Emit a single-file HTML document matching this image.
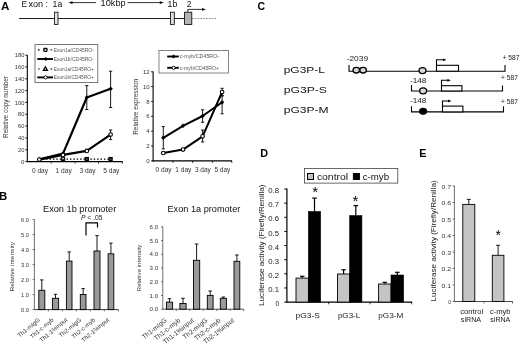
<!DOCTYPE html>
<html lang="en">
<head>
<meta charset="utf-8">
<title>Figure</title>
<style>
html,body{margin:0;padding:0;background:#fff;}
body{width:520px;height:344px;overflow:hidden;}
svg{display:block;font-family:"Liberation Sans", Arial, sans-serif;will-change:transform;-webkit-font-smoothing:antialiased;}
svg text{font-family:"Liberation Sans", Arial, sans-serif;}
</style>
</head>
<body>
<svg width="520" height="344" viewBox="0 0 520 344">
<rect x="0" y="0" width="520" height="344" fill="#ffffff"/>
<text x="1.0" y="10" font-size="10.8" text-anchor="start" fill="#000" font-weight="bold" textLength="8.4" lengthAdjust="spacingAndGlyphs">A</text>
<text x="-0.9" y="199.5" font-size="11.4" text-anchor="start" fill="#000" font-weight="bold">B</text>
<text x="257.5" y="10.4" font-size="10.5" text-anchor="start" fill="#000" font-weight="bold">C</text>
<text x="260.2" y="156.8" font-size="10.8" text-anchor="start" fill="#000" font-weight="bold">D</text>
<text x="419.3" y="156.6" font-size="10.8" text-anchor="start" fill="#000" font-weight="bold">E</text>
<text x="21.5" y="6.6" font-size="8.5" text-anchor="start" fill="#111">E<tspan x="28.4" textLength="14.8" lengthAdjust="spacingAndGlyphs">xon</tspan><tspan x="45.6">:</tspan><tspan x="52.6" textLength="9.6" lengthAdjust="spacingAndGlyphs">1a</tspan></text>
<text x="100.6" y="6.1" font-size="8.8" text-anchor="start" fill="#111" textLength="25" lengthAdjust="spacingAndGlyphs">10kbp</text>
<text x="167.6" y="6.7" font-size="8.6" text-anchor="start" fill="#111" textLength="9.8" lengthAdjust="spacingAndGlyphs">1b</text>
<text x="186.8" y="6.7" font-size="8.6" text-anchor="start" fill="#111">2</text>
<line x1="70" y1="2.6" x2="96" y2="2.6" stroke="#000" stroke-width="0.8"/>
<polygon points="68.5,2.6 72.5,1.2 72.5,4" fill="#000"/>
<line x1="127.5" y1="2.6" x2="162" y2="2.6" stroke="#000" stroke-width="0.8"/>
<polygon points="163.8,2.6 159.8,1.2 159.8,4" fill="#000"/>
<line x1="19" y1="18.5" x2="192" y2="18.5" stroke="#000" stroke-width="0.9"/>
<line x1="192" y1="18.5" x2="216.5" y2="18.5" stroke="#555" stroke-width="0.7" stroke-dasharray="1.6 1.2"/>
<rect x="54.4" y="12.2" width="3.6" height="12.2" fill="#e4e4e4" stroke="#000" stroke-width="0.8"/>
<rect x="170.4" y="12.2" width="3.9" height="12.2" fill="#dcdcdc" stroke="#000" stroke-width="0.8"/>
<rect x="184.6" y="12.2" width="7.2" height="12.2" fill="#b4b4b4" stroke="#000" stroke-width="0.8"/>
<polyline points="187.8,12.2 187.8,9.4 203,9.4" fill="none" stroke="#000" stroke-width="0.8"/>
<polygon points="205.8,9.4 202,8 202,10.8" fill="#000"/>
<line x1="27.3" y1="55" x2="27.3" y2="162.1" stroke="#000" stroke-width="1.1"/>
<line x1="26.8" y1="161.6" x2="122.6" y2="161.6" stroke="#000" stroke-width="1.1"/>
<line x1="25.3" y1="161.6" x2="27.3" y2="161.6" stroke="#000" stroke-width="0.9"/>
<text x="24.400000000000002" y="163.7" font-size="6" text-anchor="end" fill="#333">0</text>
<line x1="25.3" y1="149.76666666666665" x2="27.3" y2="149.76666666666665" stroke="#000" stroke-width="0.9"/>
<text x="24.400000000000002" y="151.86666666666665" font-size="6" text-anchor="end" fill="#333" textLength="6.4" lengthAdjust="spacingAndGlyphs">20</text>
<line x1="25.3" y1="137.93333333333334" x2="27.3" y2="137.93333333333334" stroke="#000" stroke-width="0.9"/>
<text x="24.400000000000002" y="140.03333333333333" font-size="6" text-anchor="end" fill="#333" textLength="6.4" lengthAdjust="spacingAndGlyphs">40</text>
<line x1="25.3" y1="126.1" x2="27.3" y2="126.1" stroke="#000" stroke-width="0.9"/>
<text x="24.400000000000002" y="128.2" font-size="6" text-anchor="end" fill="#333" textLength="6.4" lengthAdjust="spacingAndGlyphs">60</text>
<line x1="25.3" y1="114.26666666666665" x2="27.3" y2="114.26666666666665" stroke="#000" stroke-width="0.9"/>
<text x="24.400000000000002" y="116.36666666666665" font-size="6" text-anchor="end" fill="#333" textLength="6.4" lengthAdjust="spacingAndGlyphs">80</text>
<line x1="25.3" y1="102.43333333333334" x2="27.3" y2="102.43333333333334" stroke="#000" stroke-width="0.9"/>
<text x="24.400000000000002" y="104.53333333333333" font-size="6" text-anchor="end" fill="#333" textLength="9.600000000000001" lengthAdjust="spacingAndGlyphs">100</text>
<line x1="25.3" y1="90.6" x2="27.3" y2="90.6" stroke="#000" stroke-width="0.9"/>
<text x="24.400000000000002" y="92.69999999999999" font-size="6" text-anchor="end" fill="#333" textLength="9.600000000000001" lengthAdjust="spacingAndGlyphs">120</text>
<line x1="25.3" y1="78.76666666666667" x2="27.3" y2="78.76666666666667" stroke="#000" stroke-width="0.9"/>
<text x="24.400000000000002" y="80.86666666666666" font-size="6" text-anchor="end" fill="#333" textLength="9.600000000000001" lengthAdjust="spacingAndGlyphs">140</text>
<line x1="25.3" y1="66.93333333333332" x2="27.3" y2="66.93333333333332" stroke="#000" stroke-width="0.9"/>
<text x="24.400000000000002" y="69.03333333333332" font-size="6" text-anchor="end" fill="#333" textLength="9.600000000000001" lengthAdjust="spacingAndGlyphs">160</text>
<line x1="25.3" y1="55.099999999999994" x2="27.3" y2="55.099999999999994" stroke="#000" stroke-width="0.9"/>
<text x="24.400000000000002" y="57.199999999999996" font-size="6" text-anchor="end" fill="#333" textLength="9.600000000000001" lengthAdjust="spacingAndGlyphs">180</text>
<line x1="51.2" y1="161.6" x2="51.2" y2="163.6" stroke="#000" stroke-width="0.8"/>
<line x1="75" y1="161.6" x2="75" y2="163.6" stroke="#000" stroke-width="0.8"/>
<line x1="98.6" y1="161.6" x2="98.6" y2="163.6" stroke="#000" stroke-width="0.8"/>
<line x1="122.4" y1="161.6" x2="122.4" y2="163.6" stroke="#000" stroke-width="0.8"/>
<text x="40.0" y="172.8" font-size="6.5" text-anchor="middle" fill="#333" textLength="16.2" lengthAdjust="spacingAndGlyphs">0 day</text>
<text x="63.7" y="172.8" font-size="6.5" text-anchor="middle" fill="#333" textLength="16.2" lengthAdjust="spacingAndGlyphs">1 day</text>
<text x="87.5" y="172.8" font-size="6.5" text-anchor="middle" fill="#333" textLength="16.2" lengthAdjust="spacingAndGlyphs">3 day</text>
<text x="111.3" y="172.8" font-size="6.5" text-anchor="middle" fill="#333" textLength="16.2" lengthAdjust="spacingAndGlyphs">5 day</text>
<text x="8.4" y="107" font-size="6.4" text-anchor="middle" fill="#333" textLength="62" lengthAdjust="spacingAndGlyphs" transform="rotate(-90 8.4 107)">Relative copy number</text>
<line x1="39.3" y1="159.2" x2="110.6" y2="159.2" stroke="#000" stroke-width="1.2" stroke-dasharray="1.5 1.9"/>
<polyline points="39.3,159.3 63.0,153.6 86.8,97.5 110.6,88.8" fill="none" stroke="#000" stroke-width="2.2" stroke-linejoin="round"/>
<line x1="86.8" y1="85.6" x2="86.8" y2="109.5" stroke="#000" stroke-width="0.9"/>
<line x1="85.2" y1="85.6" x2="88.39999999999999" y2="85.6" stroke="#000" stroke-width="0.9"/>
<line x1="85.2" y1="109.5" x2="88.39999999999999" y2="109.5" stroke="#000" stroke-width="0.9"/>
<line x1="110.6" y1="71.2" x2="110.6" y2="107.5" stroke="#000" stroke-width="0.9"/>
<line x1="109.0" y1="71.2" x2="112.19999999999999" y2="71.2" stroke="#000" stroke-width="0.9"/>
<line x1="109.0" y1="107.5" x2="112.19999999999999" y2="107.5" stroke="#000" stroke-width="0.9"/>
<polygon points="37.099999999999994,159.3 39.3,157.10000000000002 41.5,159.3 39.3,161.5" fill="#000"/>
<polygon points="60.8,153.6 63.0,151.4 65.2,153.6 63.0,155.79999999999998" fill="#000"/>
<polygon points="84.6,97.5 86.8,95.3 89.0,97.5 86.8,99.7" fill="#000"/>
<polygon points="108.39999999999999,88.8 110.6,86.6 112.8,88.8 110.6,91.0" fill="#000"/>
<polyline points="39.3,159.6 63.0,154.9 86.8,150.9 110.6,134.6" fill="none" stroke="#000" stroke-width="2.2" stroke-linejoin="round"/>
<line x1="110.6" y1="130" x2="110.6" y2="139.6" stroke="#000" stroke-width="0.9"/>
<line x1="109.0" y1="130" x2="112.19999999999999" y2="130" stroke="#000" stroke-width="0.9"/>
<line x1="109.0" y1="139.6" x2="112.19999999999999" y2="139.6" stroke="#000" stroke-width="0.9"/>
<circle cx="39.3" cy="159.6" r="1.8" fill="#fff" stroke="#000" stroke-width="1.1"/>
<circle cx="63.0" cy="154.9" r="1.8" fill="#fff" stroke="#000" stroke-width="1.1"/>
<circle cx="86.8" cy="150.9" r="1.8" fill="#fff" stroke="#000" stroke-width="1.1"/>
<circle cx="110.6" cy="134.6" r="1.8" fill="#fff" stroke="#000" stroke-width="1.1"/>
<rect x="61.5" y="157.6" width="3" height="3" fill="#555" stroke="#000" stroke-width="1.3"/>
<rect x="85.3" y="157.6" width="3" height="3" fill="#555" stroke="#000" stroke-width="1.3"/>
<rect x="109.1" y="157.6" width="3" height="3" fill="#555" stroke="#000" stroke-width="1.3"/>
<polygon points="61.2,159.6 63.0,156.4 64.8,159.6" fill="#fff" stroke="#000" stroke-width="0.8"/>
<rect x="35" y="44.6" width="62.8" height="37.8" fill="#fff" stroke="#555" stroke-width="0.8"/>
<line x1="38" y1="49.9" x2="39.6" y2="49.9" stroke="#000" stroke-width="1.1"/>
<line x1="50.6" y1="49.9" x2="52.2" y2="49.9" stroke="#000" stroke-width="1.1"/>
<text x="53.8" y="51.5" font-size="4.5" text-anchor="start" fill="#555" textLength="40" lengthAdjust="spacingAndGlyphs">Exon1a/CD45RO-</text>
<line x1="37.3" y1="59" x2="53" y2="59" stroke="#000" stroke-width="1.9"/>
<text x="53.8" y="60.6" font-size="4.5" text-anchor="start" fill="#555" textLength="40" lengthAdjust="spacingAndGlyphs">Exon1b/CD45RO-</text>
<line x1="38" y1="69" x2="39.6" y2="69" stroke="#000" stroke-width="1.1"/>
<line x1="50.6" y1="69" x2="52.2" y2="69" stroke="#000" stroke-width="1.1"/>
<text x="53.8" y="70.6" font-size="4.5" text-anchor="start" fill="#555" textLength="40" lengthAdjust="spacingAndGlyphs">Exon1a/CD45RO+</text>
<line x1="37.3" y1="77.4" x2="53" y2="77.4" stroke="#000" stroke-width="1.9"/>
<text x="53.8" y="79.0" font-size="4.5" text-anchor="start" fill="#555" textLength="40" lengthAdjust="spacingAndGlyphs">Exon1b/CD45RO+</text>
<rect x="43.8" y="48.5" width="3.2" height="2.8" rx="0.8" fill="#fff" stroke="#000" stroke-width="1.3"/>
<polygon points="43.699999999999996,59 45.8,56.9 47.9,59 45.8,61.1" fill="#000"/>
<polygon points="43.4,70.4 45.4,66.8 47.4,70.4" fill="#fff" stroke="#000" stroke-width="1.3"/>
<circle cx="45.6" cy="77.4" r="1.6" fill="#fff" stroke="#000" stroke-width="0.9"/>
<line x1="153.1" y1="71.5" x2="153.1" y2="161.4" stroke="#000" stroke-width="1.1"/>
<line x1="152.6" y1="160.9" x2="232" y2="160.9" stroke="#000" stroke-width="1.1"/>
<line x1="151.1" y1="160.9" x2="153.1" y2="160.9" stroke="#000" stroke-width="0.9"/>
<text x="149.7" y="163.0" font-size="6" text-anchor="end" fill="#333">0</text>
<line x1="151.1" y1="146.04166666666669" x2="153.1" y2="146.04166666666669" stroke="#000" stroke-width="0.9"/>
<text x="149.7" y="148.14166666666668" font-size="6" text-anchor="end" fill="#333">2</text>
<line x1="151.1" y1="131.18333333333334" x2="153.1" y2="131.18333333333334" stroke="#000" stroke-width="0.9"/>
<text x="149.7" y="133.28333333333333" font-size="6" text-anchor="end" fill="#333">4</text>
<line x1="151.1" y1="116.325" x2="153.1" y2="116.325" stroke="#000" stroke-width="0.9"/>
<text x="149.7" y="118.425" font-size="6" text-anchor="end" fill="#333">6</text>
<line x1="151.1" y1="101.46666666666667" x2="153.1" y2="101.46666666666667" stroke="#000" stroke-width="0.9"/>
<text x="149.7" y="103.56666666666666" font-size="6" text-anchor="end" fill="#333">8</text>
<line x1="151.1" y1="86.60833333333333" x2="153.1" y2="86.60833333333333" stroke="#000" stroke-width="0.9"/>
<text x="149.7" y="88.70833333333333" font-size="6" text-anchor="end" fill="#333">10</text>
<line x1="151.1" y1="71.75" x2="153.1" y2="71.75" stroke="#000" stroke-width="0.9"/>
<text x="149.7" y="73.85" font-size="6" text-anchor="end" fill="#333">12</text>
<line x1="173" y1="160.9" x2="173" y2="162.9" stroke="#000" stroke-width="0.8"/>
<line x1="192.7" y1="160.9" x2="192.7" y2="162.9" stroke="#000" stroke-width="0.8"/>
<line x1="212.3" y1="160.9" x2="212.3" y2="162.9" stroke="#000" stroke-width="0.8"/>
<line x1="231.8" y1="160.9" x2="231.8" y2="162.9" stroke="#000" stroke-width="0.8"/>
<text x="163.60000000000002" y="172.4" font-size="7" text-anchor="middle" fill="#333" textLength="16" lengthAdjust="spacingAndGlyphs">0 day</text>
<text x="183.3" y="172.4" font-size="7" text-anchor="middle" fill="#333" textLength="16" lengthAdjust="spacingAndGlyphs">1 day</text>
<text x="202.9" y="172.4" font-size="7" text-anchor="middle" fill="#333" textLength="16" lengthAdjust="spacingAndGlyphs">3 day</text>
<text x="222.4" y="172.4" font-size="7" text-anchor="middle" fill="#333" textLength="16" lengthAdjust="spacingAndGlyphs">5 day</text>
<text x="138.4" y="106.8" font-size="6.4" text-anchor="middle" fill="#333" textLength="56" lengthAdjust="spacingAndGlyphs" transform="rotate(-90 138.4 106.8)">Relative expression</text>
<line x1="163.3" y1="126.6" x2="163.3" y2="148.8" stroke="#000" stroke-width="0.9"/>
<line x1="161.70000000000002" y1="126.6" x2="164.9" y2="126.6" stroke="#000" stroke-width="0.9"/>
<line x1="161.70000000000002" y1="148.8" x2="164.9" y2="148.8" stroke="#000" stroke-width="0.9"/>
<line x1="202.6" y1="109.8" x2="202.6" y2="122.3" stroke="#000" stroke-width="0.9"/>
<line x1="201.0" y1="109.8" x2="204.2" y2="109.8" stroke="#000" stroke-width="0.9"/>
<line x1="201.0" y1="122.3" x2="204.2" y2="122.3" stroke="#000" stroke-width="0.9"/>
<line x1="222.1" y1="95.4" x2="222.1" y2="113.8" stroke="#000" stroke-width="0.9"/>
<line x1="220.5" y1="95.4" x2="223.7" y2="95.4" stroke="#000" stroke-width="0.9"/>
<line x1="220.5" y1="113.8" x2="223.7" y2="113.8" stroke="#000" stroke-width="0.9"/>
<line x1="202.6" y1="130" x2="202.6" y2="142" stroke="#000" stroke-width="0.9"/>
<line x1="201.0" y1="130" x2="204.2" y2="130" stroke="#000" stroke-width="0.9"/>
<line x1="201.0" y1="142" x2="204.2" y2="142" stroke="#000" stroke-width="0.9"/>
<line x1="222.1" y1="88.3" x2="222.1" y2="96" stroke="#000" stroke-width="0.9"/>
<line x1="220.5" y1="88.3" x2="223.7" y2="88.3" stroke="#000" stroke-width="0.9"/>
<line x1="220.5" y1="96" x2="223.7" y2="96" stroke="#000" stroke-width="0.9"/>
<polyline points="163.3,137.8 183.0,125.8 202.6,116 222.1,102.3" fill="none" stroke="#000" stroke-width="2" stroke-linejoin="round"/>
<polyline points="163.3,153 183.0,149.6 202.6,136.3 222.1,92" fill="none" stroke="#000" stroke-width="2" stroke-linejoin="round"/>
<polygon points="161.10000000000002,137.8 163.3,135.60000000000002 165.5,137.8 163.3,140.0" fill="#000"/>
<polygon points="180.8,125.8 183.0,123.6 185.2,125.8 183.0,128.0" fill="#000"/>
<polygon points="200.4,116 202.6,113.8 204.79999999999998,116 202.6,118.2" fill="#000"/>
<polygon points="219.9,102.3 222.1,100.1 224.29999999999998,102.3 222.1,104.5" fill="#000"/>
<circle cx="163.3" cy="153" r="1.8" fill="#fff" stroke="#000" stroke-width="1.1"/>
<circle cx="183.0" cy="149.6" r="1.8" fill="#fff" stroke="#000" stroke-width="1.1"/>
<circle cx="202.6" cy="136.3" r="1.8" fill="#fff" stroke="#000" stroke-width="1.1"/>
<circle cx="222.1" cy="92" r="1.8" fill="#fff" stroke="#000" stroke-width="1.1"/>
<rect x="159" y="50.5" width="69.4" height="22.5" fill="#fff" stroke="#666" stroke-width="0.8"/>
<line x1="167.2" y1="56.5" x2="178.8" y2="56.5" stroke="#000" stroke-width="1.9"/>
<text x="179.8" y="58.2" font-size="4.6" text-anchor="start" fill="#555" textLength="39.3" lengthAdjust="spacingAndGlyphs">c-myb/CD45RO-</text>
<line x1="167.2" y1="67.8" x2="178.8" y2="67.8" stroke="#000" stroke-width="1.9"/>
<text x="179.8" y="69.5" font-size="4.6" text-anchor="start" fill="#555" textLength="39.3" lengthAdjust="spacingAndGlyphs">c-myb/CD45RO+</text>
<polygon points="171.5,56.5 173.6,54.4 175.7,56.5 173.6,58.6" fill="#000"/>
<circle cx="173.6" cy="67.8" r="1.6" fill="#fff" stroke="#000" stroke-width="0.9"/>
<text x="43" y="211.9" font-size="9" text-anchor="start" fill="#111" textLength="73.2" lengthAdjust="spacingAndGlyphs">Exon 1b promoter</text>
<text x="81" y="220.3" font-size="6.3" text-anchor="start" fill="#222" textLength="21.5" lengthAdjust="spacingAndGlyphs"><tspan font-style="italic">P</tspan> &lt; .05</text>
<polyline points="86,235.6 86,222.8 97.5,222.8 97.5,227.6" fill="none" stroke="#000" stroke-width="1.2"/>
<line x1="34.4" y1="219.5" x2="34.4" y2="309.6" stroke="#333" stroke-width="0.7"/>
<line x1="34.4" y1="309.6" x2="118.4" y2="309.6" stroke="#222" stroke-width="0.9"/>
<line x1="32.6" y1="309.6" x2="34.4" y2="309.6" stroke="#333" stroke-width="0.7"/>
<text x="29.0" y="311.70000000000005" font-size="5.8" text-anchor="end" fill="#333" textLength="8.0" lengthAdjust="spacingAndGlyphs">0.0</text>
<line x1="32.6" y1="294.58333333333337" x2="34.4" y2="294.58333333333337" stroke="#333" stroke-width="0.7"/>
<text x="29.0" y="296.6833333333334" font-size="5.8" text-anchor="end" fill="#333" textLength="8.0" lengthAdjust="spacingAndGlyphs">1.0</text>
<line x1="32.6" y1="279.56666666666666" x2="34.4" y2="279.56666666666666" stroke="#333" stroke-width="0.7"/>
<text x="29.0" y="281.6666666666667" font-size="5.8" text-anchor="end" fill="#333" textLength="8.0" lengthAdjust="spacingAndGlyphs">2.0</text>
<line x1="32.6" y1="264.55" x2="34.4" y2="264.55" stroke="#333" stroke-width="0.7"/>
<text x="29.0" y="266.65000000000003" font-size="5.8" text-anchor="end" fill="#333" textLength="8.0" lengthAdjust="spacingAndGlyphs">3.0</text>
<line x1="32.6" y1="249.53333333333333" x2="34.4" y2="249.53333333333333" stroke="#333" stroke-width="0.7"/>
<text x="29.0" y="251.63333333333333" font-size="5.8" text-anchor="end" fill="#333" textLength="8.0" lengthAdjust="spacingAndGlyphs">4.0</text>
<line x1="32.6" y1="234.51666666666665" x2="34.4" y2="234.51666666666665" stroke="#333" stroke-width="0.7"/>
<text x="29.0" y="236.61666666666665" font-size="5.8" text-anchor="end" fill="#333" textLength="8.0" lengthAdjust="spacingAndGlyphs">5.0</text>
<line x1="32.6" y1="219.5" x2="34.4" y2="219.5" stroke="#333" stroke-width="0.7"/>
<text x="29.0" y="221.6" font-size="5.8" text-anchor="end" fill="#333" textLength="8.0" lengthAdjust="spacingAndGlyphs">6.0</text>
<line x1="48.38333333333333" y1="309.6" x2="48.38333333333333" y2="311.40000000000003" stroke="#333" stroke-width="0.7"/>
<line x1="62.36666666666667" y1="309.6" x2="62.36666666666667" y2="311.40000000000003" stroke="#333" stroke-width="0.7"/>
<line x1="76.35" y1="309.6" x2="76.35" y2="311.40000000000003" stroke="#333" stroke-width="0.7"/>
<line x1="90.33333333333334" y1="309.6" x2="90.33333333333334" y2="311.40000000000003" stroke="#333" stroke-width="0.7"/>
<line x1="104.31666666666666" y1="309.6" x2="104.31666666666666" y2="311.40000000000003" stroke="#333" stroke-width="0.7"/>
<line x1="118.30000000000001" y1="309.6" x2="118.30000000000001" y2="311.40000000000003" stroke="#333" stroke-width="0.7"/>
<text x="14.2" y="266.8" font-size="5.8" text-anchor="middle" fill="#333" textLength="49.5" lengthAdjust="spacingAndGlyphs" transform="rotate(-90 14.2 266.8)">Relative intensity</text>
<line x1="41.8" y1="279.9" x2="41.8" y2="290.3" stroke="#000" stroke-width="0.9"/>
<line x1="40.099999999999994" y1="279.9" x2="43.5" y2="279.9" stroke="#000" stroke-width="0.9"/>
<rect x="38.8" y="290.3" width="6.0" height="19.30000000000001" fill="#9a9a9a" stroke="#000" stroke-width="0.9"/>
<line x1="55.5" y1="294.3" x2="55.5" y2="298.3" stroke="#000" stroke-width="0.9"/>
<line x1="53.8" y1="294.3" x2="57.2" y2="294.3" stroke="#000" stroke-width="0.9"/>
<rect x="52.4" y="298.3" width="6.200000000000003" height="11.300000000000011" fill="#9a9a9a" stroke="#000" stroke-width="0.9"/>
<line x1="69.2" y1="251.9" x2="69.2" y2="261.1" stroke="#000" stroke-width="0.9"/>
<line x1="67.5" y1="251.9" x2="70.9" y2="251.9" stroke="#000" stroke-width="0.9"/>
<rect x="66.4" y="261.1" width="5.599999999999994" height="48.5" fill="#9a9a9a" stroke="#000" stroke-width="0.9"/>
<line x1="83.15" y1="288.6" x2="83.15" y2="294.5" stroke="#000" stroke-width="0.9"/>
<line x1="81.45" y1="288.6" x2="84.85000000000001" y2="288.6" stroke="#000" stroke-width="0.9"/>
<rect x="80.3" y="294.5" width="5.700000000000003" height="15.100000000000023" fill="#9a9a9a" stroke="#000" stroke-width="0.9"/>
<line x1="97.0" y1="235.6" x2="97.0" y2="251" stroke="#000" stroke-width="0.9"/>
<line x1="95.3" y1="235.6" x2="98.7" y2="235.6" stroke="#000" stroke-width="0.9"/>
<rect x="94" y="251" width="6" height="58.60000000000002" fill="#9a9a9a" stroke="#000" stroke-width="0.9"/>
<line x1="110.94999999999999" y1="243.1" x2="110.94999999999999" y2="253.8" stroke="#000" stroke-width="0.9"/>
<line x1="109.24999999999999" y1="243.1" x2="112.64999999999999" y2="243.1" stroke="#000" stroke-width="0.9"/>
<rect x="108.1" y="253.8" width="5.700000000000003" height="55.80000000000001" fill="#9a9a9a" stroke="#000" stroke-width="0.9"/>
<text x="40.4" y="320.5" font-size="6.0" text-anchor="end" fill="#333" transform="rotate(-40 40.4 320.5)">Th1-mIgG</text>
<text x="54.1" y="320.5" font-size="6.0" text-anchor="end" fill="#333" transform="rotate(-40 54.1 320.5)">Th1-c-myb</text>
<text x="67.8" y="320.5" font-size="6.0" text-anchor="end" fill="#333" transform="rotate(-40 67.8 320.5)">Th1-1%input</text>
<text x="81.75" y="320.5" font-size="6.0" text-anchor="end" fill="#333" transform="rotate(-40 81.75 320.5)">Th2-mIgG</text>
<text x="95.6" y="320.5" font-size="6.0" text-anchor="end" fill="#333" transform="rotate(-40 95.6 320.5)">Th2-c-myb</text>
<text x="109.54999999999998" y="320.5" font-size="6.0" text-anchor="end" fill="#333" transform="rotate(-40 109.54999999999998 320.5)">Th2-1%input</text>
<text x="167.5" y="211.9" font-size="9" text-anchor="start" fill="#111" textLength="72.8" lengthAdjust="spacingAndGlyphs">Exon 1a promoter</text>
<line x1="162.8" y1="226.6" x2="162.8" y2="309.2" stroke="#333" stroke-width="0.7"/>
<line x1="162.8" y1="309.2" x2="243.8" y2="309.2" stroke="#222" stroke-width="0.8"/>
<line x1="161.0" y1="309.2" x2="162.8" y2="309.2" stroke="#333" stroke-width="0.7"/>
<text x="158.20000000000002" y="311.3" font-size="5.6" text-anchor="end" fill="#333" textLength="8.6" lengthAdjust="spacingAndGlyphs">0.0</text>
<line x1="161.0" y1="295.48333333333335" x2="162.8" y2="295.48333333333335" stroke="#333" stroke-width="0.7"/>
<text x="158.20000000000002" y="297.58333333333337" font-size="5.6" text-anchor="end" fill="#333" textLength="8.6" lengthAdjust="spacingAndGlyphs">1.0</text>
<line x1="161.0" y1="281.76666666666665" x2="162.8" y2="281.76666666666665" stroke="#333" stroke-width="0.7"/>
<text x="158.20000000000002" y="283.8666666666667" font-size="5.6" text-anchor="end" fill="#333" textLength="8.6" lengthAdjust="spacingAndGlyphs">2.0</text>
<line x1="161.0" y1="268.05" x2="162.8" y2="268.05" stroke="#333" stroke-width="0.7"/>
<text x="158.20000000000002" y="270.15000000000003" font-size="5.6" text-anchor="end" fill="#333" textLength="8.6" lengthAdjust="spacingAndGlyphs">3.0</text>
<line x1="161.0" y1="254.33333333333334" x2="162.8" y2="254.33333333333334" stroke="#333" stroke-width="0.7"/>
<text x="158.20000000000002" y="256.43333333333334" font-size="5.6" text-anchor="end" fill="#333" textLength="8.6" lengthAdjust="spacingAndGlyphs">4.0</text>
<line x1="161.0" y1="240.61666666666667" x2="162.8" y2="240.61666666666667" stroke="#333" stroke-width="0.7"/>
<text x="158.20000000000002" y="242.71666666666667" font-size="5.6" text-anchor="end" fill="#333" textLength="8.6" lengthAdjust="spacingAndGlyphs">5.0</text>
<line x1="161.0" y1="226.9" x2="162.8" y2="226.9" stroke="#333" stroke-width="0.7"/>
<text x="158.20000000000002" y="229.0" font-size="5.6" text-anchor="end" fill="#333" textLength="8.6" lengthAdjust="spacingAndGlyphs">6.0</text>
<line x1="176.28333333333333" y1="309.2" x2="176.28333333333333" y2="311.0" stroke="#333" stroke-width="0.7"/>
<line x1="189.76666666666668" y1="309.2" x2="189.76666666666668" y2="311.0" stroke="#333" stroke-width="0.7"/>
<line x1="203.25" y1="309.2" x2="203.25" y2="311.0" stroke="#333" stroke-width="0.7"/>
<line x1="216.73333333333332" y1="309.2" x2="216.73333333333332" y2="311.0" stroke="#333" stroke-width="0.7"/>
<line x1="230.21666666666664" y1="309.2" x2="230.21666666666664" y2="311.0" stroke="#333" stroke-width="0.7"/>
<line x1="243.7" y1="309.2" x2="243.7" y2="311.0" stroke="#333" stroke-width="0.7"/>
<text x="140.8" y="268" font-size="5.6" text-anchor="middle" fill="#333" textLength="47" lengthAdjust="spacingAndGlyphs" transform="rotate(-90 140.8 268)">Relative intensity</text>
<line x1="169.5" y1="298.7" x2="169.5" y2="302.1" stroke="#000" stroke-width="0.9"/>
<line x1="167.7" y1="298.7" x2="171.3" y2="298.7" stroke="#000" stroke-width="0.9"/>
<rect x="166.4" y="302.1" width="6.199999999999989" height="7.099999999999966" fill="#9a9a9a" stroke="#000" stroke-width="0.9"/>
<line x1="183.0" y1="298.3" x2="183.0" y2="303.5" stroke="#000" stroke-width="0.9"/>
<line x1="181.2" y1="298.3" x2="184.8" y2="298.3" stroke="#000" stroke-width="0.9"/>
<rect x="179.9" y="303.5" width="6.199999999999989" height="5.699999999999989" fill="#9a9a9a" stroke="#000" stroke-width="0.9"/>
<line x1="196.6" y1="244" x2="196.6" y2="260.3" stroke="#000" stroke-width="0.9"/>
<line x1="194.79999999999998" y1="244" x2="198.4" y2="244" stroke="#000" stroke-width="0.9"/>
<rect x="193.5" y="260.3" width="6.199999999999989" height="48.89999999999998" fill="#9a9a9a" stroke="#000" stroke-width="0.9"/>
<line x1="210.2" y1="291" x2="210.2" y2="295.4" stroke="#000" stroke-width="0.9"/>
<line x1="208.39999999999998" y1="291" x2="212.0" y2="291" stroke="#000" stroke-width="0.9"/>
<rect x="207.3" y="295.4" width="5.799999999999983" height="13.800000000000011" fill="#9a9a9a" stroke="#000" stroke-width="0.9"/>
<line x1="223.35000000000002" y1="297" x2="223.35000000000002" y2="298.3" stroke="#000" stroke-width="0.9"/>
<line x1="221.55" y1="297" x2="225.15000000000003" y2="297" stroke="#000" stroke-width="0.9"/>
<rect x="220.3" y="298.3" width="6.099999999999994" height="10.899999999999977" fill="#9a9a9a" stroke="#000" stroke-width="0.9"/>
<line x1="236.9" y1="255" x2="236.9" y2="261.3" stroke="#000" stroke-width="0.9"/>
<line x1="235.1" y1="255" x2="238.70000000000002" y2="255" stroke="#000" stroke-width="0.9"/>
<rect x="234" y="261.3" width="5.800000000000011" height="47.89999999999998" fill="#9a9a9a" stroke="#000" stroke-width="0.9"/>
<text x="167.4" y="321.1" font-size="6.6" text-anchor="end" fill="#333" transform="rotate(-38.5 167.4 321.1)">Th1-mIgG</text>
<text x="180.9" y="321.1" font-size="6.6" text-anchor="end" fill="#333" transform="rotate(-38.5 180.9 321.1)">Th1-c-myb</text>
<text x="194.5" y="321.1" font-size="6.6" text-anchor="end" fill="#333" transform="rotate(-38.5 194.5 321.1)">Th1-1%input</text>
<text x="208.1" y="321.1" font-size="6.6" text-anchor="end" fill="#333" transform="rotate(-38.5 208.1 321.1)">Th2-mIgG</text>
<text x="221.25000000000003" y="321.1" font-size="6.6" text-anchor="end" fill="#333" transform="rotate(-38.5 221.25000000000003 321.1)">Th2-c-myb</text>
<text x="234.8" y="321.1" font-size="6.6" text-anchor="end" fill="#333" transform="rotate(-38.5 234.8 321.1)">Th2-1%input</text>
<text x="283.7" y="72.5" font-size="8.6" text-anchor="start" fill="#111" textLength="41.2" lengthAdjust="spacingAndGlyphs">pG3P-L</text>
<text x="283.7" y="92.5" font-size="8.6" text-anchor="start" fill="#111" textLength="43.2" lengthAdjust="spacingAndGlyphs">pG3P-S</text>
<text x="283.7" y="112.5" font-size="8.6" text-anchor="start" fill="#111" textLength="45" lengthAdjust="spacingAndGlyphs">pG3P-M</text>
<text x="346.7" y="60.8" font-size="7.6" text-anchor="start" fill="#1a1a1a" textLength="21.4" lengthAdjust="spacingAndGlyphs">-2039</text>
<text x="410.0" y="82.8" font-size="7.6" text-anchor="start" fill="#1a1a1a" textLength="16.4" lengthAdjust="spacingAndGlyphs">-148</text>
<text x="410.0" y="103.4" font-size="7.6" text-anchor="start" fill="#1a1a1a" textLength="16.4" lengthAdjust="spacingAndGlyphs">-148</text>
<text x="502.5" y="60.2" font-size="7.0" text-anchor="start" fill="#1a1a1a" textLength="17" lengthAdjust="spacingAndGlyphs">+ 587</text>
<text x="501.0" y="80.3" font-size="7.0" text-anchor="start" fill="#1a1a1a" textLength="17" lengthAdjust="spacingAndGlyphs">+ 587</text>
<text x="501.0" y="103.7" font-size="7.0" text-anchor="start" fill="#1a1a1a" textLength="17" lengthAdjust="spacingAndGlyphs">+ 587</text>
<polyline points="349,65 349,71.2 505,71.2 505,65" fill="none" stroke="#000" stroke-width="1.1"/>
<ellipse cx="356.3" cy="70.2" rx="3.3" ry="2.8" fill="#d8d8d8" stroke="#000" stroke-width="1.3"/>
<ellipse cx="363.1" cy="70.2" rx="3.3" ry="2.8" fill="#d8d8d8" stroke="#000" stroke-width="1.3"/>
<ellipse cx="422.5" cy="70.6" rx="3.5" ry="3" fill="#d8d8d8" stroke="#000" stroke-width="1.3"/>
<rect x="436.5" y="65.3" width="22" height="5.9" fill="#fff" stroke="#000" stroke-width="1.1"/>
<polyline points="436.5,65.3 436.5,59.8 444,59.8" fill="none" stroke="#000" stroke-width="1.1"/>
<polygon points="446.4,59.8 443,58.4 443,61.2" fill="#000"/>
<polyline points="411.5,85 411.5,91 502.5,91 502.5,85.6" fill="none" stroke="#000" stroke-width="1.1"/>
<ellipse cx="423.1" cy="90.8" rx="3.5" ry="3" fill="#d8d8d8" stroke="#000" stroke-width="1.3"/>
<rect x="441.5" y="85.7" width="20.4" height="5.3" fill="#fff" stroke="#000" stroke-width="1.1"/>
<polyline points="441.5,85.7 441.5,80.3 448.4,80.3" fill="none" stroke="#000" stroke-width="1.1"/>
<polygon points="450.8,80.3 447.4,78.9 447.4,81.7" fill="#000"/>
<polyline points="411.5,106.3 411.5,111.9 503.5,111.9 503.5,106.3" fill="none" stroke="#000" stroke-width="1.1"/>
<ellipse cx="423.1" cy="111.3" rx="3.9" ry="3.3" fill="#000" stroke="#000" stroke-width="0.6"/>
<rect x="442.5" y="106.1" width="20.4" height="5.8" fill="#fff" stroke="#000" stroke-width="1.1"/>
<polyline points="442.5,106.1 442.5,101 449,101" fill="none" stroke="#000" stroke-width="1.1"/>
<polygon points="451.4,101 448,99.6 448,102.4" fill="#000"/>
<rect x="304.4" y="168.5" width="93.4" height="14.6" fill="#fff" stroke="#444" stroke-width="0.8"/>
<rect x="307.5" y="173.5" width="6" height="6" fill="#c4c4c4" stroke="#000" stroke-width="1.0"/>
<rect x="353.4" y="173.5" width="6" height="6" fill="#000" stroke="#000" stroke-width="1.0"/>
<text x="316.9" y="180.3" font-size="9.4" text-anchor="start" fill="#111" textLength="31.2" lengthAdjust="spacingAndGlyphs">control</text>
<text x="362.7" y="180.3" font-size="9.4" text-anchor="start" fill="#111" textLength="26.4" lengthAdjust="spacingAndGlyphs">c-myb</text>
<line x1="286.9" y1="188.6" x2="286.9" y2="302.6" stroke="#000" stroke-width="1.2"/>
<line x1="286.4" y1="302.1" x2="412.2" y2="302.1" stroke="#000" stroke-width="1.1"/>
<line x1="284.29999999999995" y1="302.1" x2="286.9" y2="302.1" stroke="#000" stroke-width="1.0"/>
<text x="279.09999999999997" y="306.3" font-size="6.6" text-anchor="end" fill="#222">0</text>
<line x1="284.29999999999995" y1="287.96250000000003" x2="286.9" y2="287.96250000000003" stroke="#000" stroke-width="1.0"/>
<text x="279.09999999999997" y="292.1625" font-size="6.6" text-anchor="end" fill="#222" textLength="10.8" lengthAdjust="spacingAndGlyphs">0.1</text>
<line x1="284.29999999999995" y1="273.82500000000005" x2="286.9" y2="273.82500000000005" stroke="#000" stroke-width="1.0"/>
<text x="279.09999999999997" y="278.02500000000003" font-size="6.6" text-anchor="end" fill="#222" textLength="10.8" lengthAdjust="spacingAndGlyphs">0.2</text>
<line x1="284.29999999999995" y1="259.6875" x2="286.9" y2="259.6875" stroke="#000" stroke-width="1.0"/>
<text x="279.09999999999997" y="263.8875" font-size="6.6" text-anchor="end" fill="#222" textLength="10.8" lengthAdjust="spacingAndGlyphs">0.3</text>
<line x1="284.29999999999995" y1="245.55" x2="286.9" y2="245.55" stroke="#000" stroke-width="1.0"/>
<text x="279.09999999999997" y="249.75" font-size="6.6" text-anchor="end" fill="#222" textLength="10.8" lengthAdjust="spacingAndGlyphs">0.4</text>
<line x1="284.29999999999995" y1="231.41250000000002" x2="286.9" y2="231.41250000000002" stroke="#000" stroke-width="1.0"/>
<text x="279.09999999999997" y="235.6125" font-size="6.6" text-anchor="end" fill="#222" textLength="10.8" lengthAdjust="spacingAndGlyphs">0.5</text>
<line x1="284.29999999999995" y1="217.275" x2="286.9" y2="217.275" stroke="#000" stroke-width="1.0"/>
<text x="279.09999999999997" y="221.475" font-size="6.6" text-anchor="end" fill="#222" textLength="10.8" lengthAdjust="spacingAndGlyphs">0.6</text>
<line x1="284.29999999999995" y1="203.1375" x2="286.9" y2="203.1375" stroke="#000" stroke-width="1.0"/>
<text x="279.09999999999997" y="207.33749999999998" font-size="6.6" text-anchor="end" fill="#222" textLength="10.8" lengthAdjust="spacingAndGlyphs">0.7</text>
<line x1="284.29999999999995" y1="189.0" x2="286.9" y2="189.0" stroke="#000" stroke-width="1.0"/>
<text x="279.09999999999997" y="193.2" font-size="6.6" text-anchor="end" fill="#222" textLength="10.8" lengthAdjust="spacingAndGlyphs">0.8</text>
<line x1="328.7" y1="302.1" x2="328.7" y2="304.3" stroke="#000" stroke-width="0.8"/>
<line x1="370" y1="302.1" x2="370" y2="304.3" stroke="#000" stroke-width="0.8"/>
<line x1="411.6" y1="302.1" x2="411.6" y2="304.3" stroke="#000" stroke-width="0.8"/>
<text x="263.7" y="245.2" font-size="6.8" text-anchor="middle" fill="#222" textLength="121.5" lengthAdjust="spacingAndGlyphs" transform="rotate(-90 263.7 245.2)">Luciferase activity (Firefly/Renilla)</text>
<line x1="302.2" y1="276.3" x2="302.2" y2="278.1" stroke="#000" stroke-width="1.2"/>
<line x1="300.0" y1="276.3" x2="304.4" y2="276.3" stroke="#000" stroke-width="1.2"/>
<line x1="314.5" y1="198.1" x2="314.5" y2="211.5" stroke="#000" stroke-width="1.2"/>
<line x1="312.2" y1="198.1" x2="316.8" y2="198.1" stroke="#000" stroke-width="1.2"/>
<rect x="296" y="278.1" width="12.399999999999977" height="24.0" fill="#c4c4c4" stroke="#000" stroke-width="0.9"/>
<rect x="308.4" y="211.5" width="12.200000000000045" height="90.60000000000002" fill="#000" stroke="#000" stroke-width="0.6"/>
<line x1="343.6" y1="269.8" x2="343.6" y2="274" stroke="#000" stroke-width="1.2"/>
<line x1="341.40000000000003" y1="269.8" x2="345.8" y2="269.8" stroke="#000" stroke-width="1.2"/>
<line x1="355.79999999999995" y1="205.6" x2="355.79999999999995" y2="215.6" stroke="#000" stroke-width="1.2"/>
<line x1="353.49999999999994" y1="205.6" x2="358.09999999999997" y2="205.6" stroke="#000" stroke-width="1.2"/>
<rect x="337.5" y="274" width="12.199999999999989" height="28.100000000000023" fill="#c4c4c4" stroke="#000" stroke-width="0.9"/>
<rect x="349.7" y="215.6" width="12.199999999999989" height="86.50000000000003" fill="#000" stroke="#000" stroke-width="0.6"/>
<line x1="384.8" y1="282.3" x2="384.8" y2="284" stroke="#000" stroke-width="1.2"/>
<line x1="382.6" y1="282.3" x2="387.0" y2="282.3" stroke="#000" stroke-width="1.2"/>
<line x1="397.3" y1="272.3" x2="397.3" y2="275" stroke="#000" stroke-width="1.2"/>
<line x1="395.0" y1="272.3" x2="399.6" y2="272.3" stroke="#000" stroke-width="1.2"/>
<rect x="378.6" y="284" width="12.399999999999977" height="18.100000000000023" fill="#c4c4c4" stroke="#000" stroke-width="0.9"/>
<rect x="391" y="275" width="12.600000000000023" height="27.100000000000023" fill="#000" stroke="#000" stroke-width="0.6"/>
<text x="315.2" y="197.3" font-size="15" text-anchor="middle" fill="#000">*</text>
<text x="355.5" y="205.8" font-size="15" text-anchor="middle" fill="#000">*</text>
<text x="295.6" y="317.9" font-size="6.9" text-anchor="start" fill="#222" textLength="24.2" lengthAdjust="spacingAndGlyphs">pG3-S</text>
<text x="337.9" y="317.9" font-size="6.9" text-anchor="start" fill="#222" textLength="22.4" lengthAdjust="spacingAndGlyphs">pG3-L</text>
<text x="378.3" y="317.9" font-size="6.9" text-anchor="start" fill="#222" textLength="25" lengthAdjust="spacingAndGlyphs">pG3-M</text>
<line x1="454.4" y1="185.7" x2="454.4" y2="301.5" stroke="#333" stroke-width="0.7"/>
<line x1="454.4" y1="301.5" x2="512.7" y2="301.5" stroke="#222" stroke-width="0.8"/>
<line x1="452.59999999999997" y1="301.5" x2="454.4" y2="301.5" stroke="#333" stroke-width="0.7"/>
<text x="451.2" y="304.2" font-size="5.2" text-anchor="end" fill="#333">0</text>
<line x1="452.59999999999997" y1="285.0" x2="454.4" y2="285.0" stroke="#333" stroke-width="0.7"/>
<text x="451.2" y="287.7" font-size="5.2" text-anchor="end" fill="#333" textLength="9.6" lengthAdjust="spacingAndGlyphs">0.1</text>
<line x1="452.59999999999997" y1="268.5" x2="454.4" y2="268.5" stroke="#333" stroke-width="0.7"/>
<text x="451.2" y="271.2" font-size="5.2" text-anchor="end" fill="#333" textLength="9.6" lengthAdjust="spacingAndGlyphs">0.2</text>
<line x1="452.59999999999997" y1="252.0" x2="454.4" y2="252.0" stroke="#333" stroke-width="0.7"/>
<text x="451.2" y="254.7" font-size="5.2" text-anchor="end" fill="#333" textLength="9.6" lengthAdjust="spacingAndGlyphs">0.3</text>
<line x1="452.59999999999997" y1="235.5" x2="454.4" y2="235.5" stroke="#333" stroke-width="0.7"/>
<text x="451.2" y="238.2" font-size="5.2" text-anchor="end" fill="#333" textLength="9.6" lengthAdjust="spacingAndGlyphs">0.4</text>
<line x1="452.59999999999997" y1="219.0" x2="454.4" y2="219.0" stroke="#333" stroke-width="0.7"/>
<text x="451.2" y="221.7" font-size="5.2" text-anchor="end" fill="#333" textLength="9.6" lengthAdjust="spacingAndGlyphs">0.5</text>
<line x1="452.59999999999997" y1="202.5" x2="454.4" y2="202.5" stroke="#333" stroke-width="0.7"/>
<text x="451.2" y="205.2" font-size="5.2" text-anchor="end" fill="#333" textLength="9.6" lengthAdjust="spacingAndGlyphs">0.6</text>
<line x1="452.59999999999997" y1="186.0" x2="454.4" y2="186.0" stroke="#333" stroke-width="0.7"/>
<text x="451.2" y="188.7" font-size="5.2" text-anchor="end" fill="#333" textLength="9.6" lengthAdjust="spacingAndGlyphs">0.7</text>
<line x1="484.1" y1="301.5" x2="484.1" y2="303.5" stroke="#333" stroke-width="0.7"/>
<line x1="512.5" y1="301.5" x2="512.5" y2="303.5" stroke="#333" stroke-width="0.7"/>
<text x="436" y="240.9" font-size="6.4" text-anchor="middle" fill="#222" textLength="121" lengthAdjust="spacingAndGlyphs" transform="rotate(-90 436 240.9)">Luciferase activity (Firefly/Renilla)</text>
<line x1="468.8" y1="199.4" x2="468.8" y2="204.4" stroke="#000" stroke-width="0.9"/>
<line x1="466.8" y1="199.4" x2="470.8" y2="199.4" stroke="#000" stroke-width="0.9"/>
<rect x="462.8" y="204.4" width="12" height="97.1" fill="#c4c4c4" stroke="#000" stroke-width="0.9"/>
<line x1="498.1" y1="245.3" x2="498.1" y2="255.3" stroke="#000" stroke-width="0.9"/>
<line x1="496.1" y1="245.3" x2="500.1" y2="245.3" stroke="#000" stroke-width="0.9"/>
<rect x="492.3" y="255.3" width="11.6" height="46.19999999999999" fill="#c4c4c4" stroke="#000" stroke-width="0.9"/>
<text x="498.2" y="240.2" font-size="14" text-anchor="middle" fill="#000">*</text>
<text x="460.2" y="314.4" font-size="6.3" text-anchor="start" fill="#222" textLength="23" lengthAdjust="spacingAndGlyphs">control</text>
<text x="460.8" y="321.9" font-size="6.3" text-anchor="start" fill="#222" textLength="20.3" lengthAdjust="spacingAndGlyphs">siRNA</text>
<text x="489.9" y="314.4" font-size="6.3" text-anchor="start" fill="#222" textLength="20.7" lengthAdjust="spacingAndGlyphs">c-myb</text>
<text x="490.3" y="321.9" font-size="6.3" text-anchor="start" fill="#222" textLength="20" lengthAdjust="spacingAndGlyphs">siRNA</text>
</svg>
</body>
</html>
